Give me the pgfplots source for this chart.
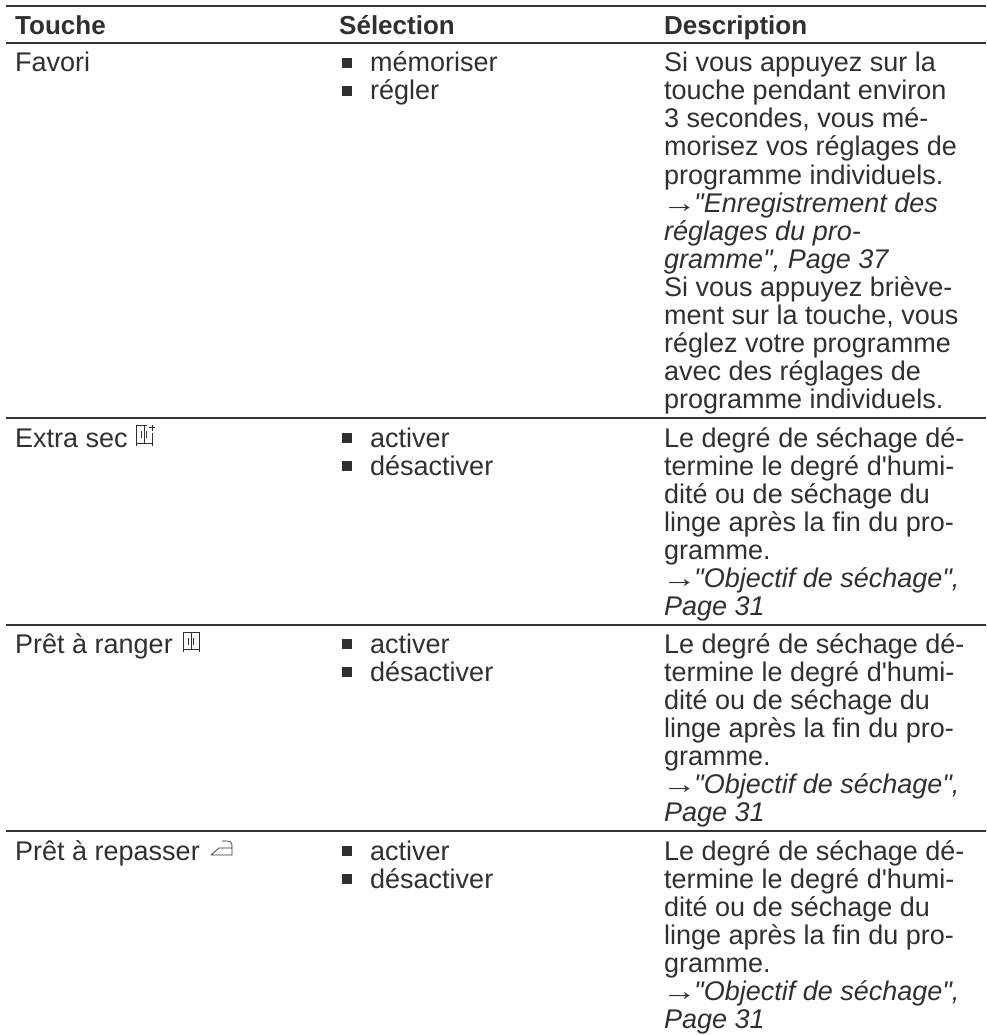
\documentclass[border=0pt]{standalone}
\usepackage{pgfplots}
\pgfplotsset{compat=1.18}
\usepackage{graphicx}
\usepackage{fontspec}
\setmainfont[Ligatures=TeXOff]{Liberation Sans}
\definecolor{ink}{HTML}{303030}
\definecolor{rule}{HTML}{333333}
\newcommand{\Sz}{\fontsize{27}{28}\selectfont}
\newcommand{\T}[3]{\node[anchor=base west,inner sep=0pt,text=ink,font=\Sz] at (axis cs:#1,#2) {#3};}
\newcommand{\TB}[3]{\node[anchor=base west,inner sep=0pt,text=ink,font=\fontsize{26}{28}\selectfont\bfseries] at (axis cs:#1,#2) {#3};}
\newcommand{\TI}[3]{\node[anchor=base west,inner sep=0pt,text=ink,font=\Sz\itshape] at (axis cs:#1,#2) {#3};}
\newcommand{\ArrowLine}[2]{%
  \node[anchor=base west,inner sep=0pt,text=ink,font=\Sz] at (axis cs:662,#1) {\scalebox{1.28}[1]{→}};
  \node[anchor=base west,inner sep=0pt,text=ink,font=\Sz\itshape] at (axis cs:694,#1) {#2};}
\begin{document}
\begin{tikzpicture}
\path[use as bounding box] (0,0) rectangle (986pt,1035pt);
\begin{axis}[
  at={(0,0)},anchor=south west,
  scale only axis,width=986pt,height=1035pt,
  xmin=0,xmax=986,ymin=0,ymax=1035,y dir=reverse,
  axis lines=none,clip=false,
]
% table rules
\addplot[rule,line width=1.6pt] coordinates {(6,6) (986,6)};
\addplot[rule,line width=1.6pt] coordinates {(6,43) (986,43)};
\addplot[rule,line width=1.6pt] coordinates {(6,418) (986,418)};
\addplot[rule,line width=1.6pt] coordinates {(6,625) (986,625)};
\addplot[rule,line width=1.6pt] coordinates {(6,831) (986,831)};
% bullets
\addplot[only marks,mark=square*,mark size=4.6pt,mark options={fill=ink,draw=ink,line width=0pt}] coordinates {
 (347,63) (347,91) (347,438) (347,466) (347,644) (347,672) (347,851) (347,879)};
% header
\TB{15}{35}{Touche}
\TB{339}{35}{Sélection}
\TB{664}{35}{Description}
% row 1
\T{15}{72}{Favori}
\T{370}{72}{mémoriser}
\T{370}{100}{régler}
\T{664}{72}{Si vous appuyez sur la}
\T{664}{100}{touche pendant environ}
\T{664}{128}{3 secondes, vous mé-}
\T{664}{156}{morisez vos réglages de}
\T{664}{184}{programme individuels.}
\ArrowLine{212}{"Enregistrement des}
\TI{664}{240}{réglages du pro-}
\TI{664}{268}{gramme", Page 37}
\T{664}{296}{Si vous appuyez briève-}
\T{664}{324}{ment sur la touche, vous}
\T{664}{352}{réglez votre programme}
\T{664}{380}{avec des réglages de}
\T{664}{408}{programme individuels.}
% row 2
\T{15}{447}{Extra sec}
\T{370}{447}{activer}
\T{370}{475}{désactiver}
\T{664}{447}{Le degré de séchage dé-}
\T{664}{475}{termine le degré d'humi-}
\T{664}{503}{dité ou de séchage du}
\T{664}{531}{linge après la fin du pro-}
\T{664}{559}{gramme.}
\ArrowLine{587}{"Objectif de séchage",}
\TI{664}{615}{Page 31}
% row 3
\T{15}{653}{Prêt à ranger}
\T{370}{653}{activer}
\T{370}{681}{désactiver}
\T{664}{653}{Le degré de séchage dé-}
\T{664}{681}{termine le degré d'humi-}
\T{664}{709}{dité ou de séchage du}
\T{664}{737}{linge après la fin du pro-}
\T{664}{765}{gramme.}
\ArrowLine{793}{"Objectif de séchage",}
\TI{664}{821}{Page 31}
% row 4
\T{15}{860}{Prêt à repasser}
\T{370}{860}{activer}
\T{370}{888}{désactiver}
\T{664}{860}{Le degré de séchage dé-}
\T{664}{888}{termine le degré d'humi-}
\T{664}{916}{dité ou de séchage du}
\T{664}{944}{linge après la fin du pro-}
\T{664}{972}{gramme.}
\ArrowLine{1000}{"Objectif de séchage",}
\TI{664}{1028}{Page 31}
% icons
\draw[ink,line width=0.7pt] (axis cs:136,446) -- (axis cs:136,425) -- (axis cs:147,425) (axis cs:136,443.5)--(axis cs:152,443.5) (axis cs:152,433)--(axis cs:152,446) (axis cs:144,425)--(axis cs:144,444) (axis cs:141.5,431)--(axis cs:141.5,438) (axis cs:146.5,431)--(axis cs:146.5,438) (axis cs:149,427.5)--(axis cs:155,427.5) (axis cs:152,424.5)--(axis cs:152,430.5);
\draw[ink,line width=0.7pt] (axis cs:183,652) -- (axis cs:183,632) -- (axis cs:199,632) -- (axis cs:199,652) (axis cs:183,649)--(axis cs:199,649) (axis cs:191,632)--(axis cs:191,649) (axis cs:188.5,638)--(axis cs:188.5,645) (axis cs:193.5,638)--(axis cs:193.5,645);
\draw[ink,line width=0.7pt] (axis cs:211,855) -- (axis cs:232,855) -- (axis cs:232,845) .. controls (axis cs:232,842) and (axis cs:230,841) .. (axis cs:227,841) -- (axis cs:222,841) (axis cs:211,855) -- (axis cs:219,848) -- (axis cs:232,848);
\end{axis}
\end{tikzpicture}
\end{document}
